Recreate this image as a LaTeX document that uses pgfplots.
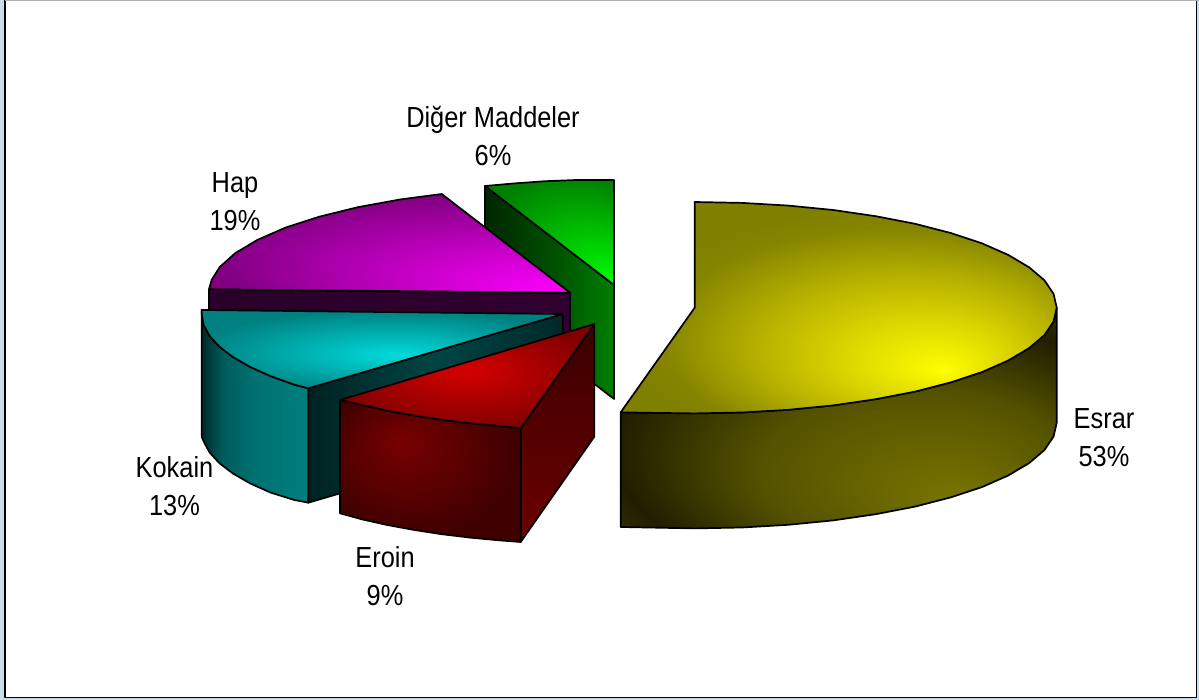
\documentclass[border=0pt]{standalone}
\usepackage{fontspec}
\setmainfont[FakeStretch=0.875]{Liberation Sans}
\usepackage{pgfplots}
\pgfplotsset{compat=1.18}

\definecolor{frame}{HTML}{C9DDE9}
% top faces: focal point of each shading sits on the highlight
\pgfdeclareradialshading{esrartop}{\pgfpoint{12.2bp}{-14.9bp}}{rgb(0bp)=(1,1,0);rgb(8bp)=(.88,.86,0);rgb(17bp)=(.72,.7,0);rgb(26bp)=(.52,.52,0);rgb(30bp)=(.5,.5,0);rgb(50bp)=(.5,.5,0)}
\pgfdeclareradialshading{haptop}{\pgfpoint{25bp}{-25bp}}{rgb(0bp)=(1,0,1);rgb(33bp)=(.5,0,.5);rgb(50bp)=(.5,0,.5)}
\pgfdeclareradialshading{kokaintop}{\pgfpoint{2bp}{-3.8bp}}{rgb(0bp)=(0,.86,.86);rgb(27bp)=(0,.5,.5);rgb(50bp)=(0,.5,.5)}
\pgfdeclareradialshading{eroitop}{\pgfpoint{0bp}{2.9bp}}{rgb(0bp)=(.84,0,0);rgb(27bp)=(.5,0,0);rgb(50bp)=(.5,0,0)}
\pgfdeclareradialshading{digertop}{\pgfpoint{25bp}{-25bp}}{rgb(0bp)=(0,1,0);rgb(35bp)=(0,.5,0);rgb(50bp)=(0,.5,0)}
% side faces
\pgfdeclareradialshading{esrarside}{\pgfpoint{13.9bp}{-18.7bp}}{rgb(0bp)=(.47,.46,0);rgb(18bp)=(.33,.32,0);rgb(31bp)=(.125,.118,0);rgb(37bp)=(.22,.21,0);rgb(50bp)=(.22,.21,0)}
\pgfdeclareradialshading{eroinfront}{\pgfpoint{-8.3bp}{10.9bp}}{rgb(0bp)=(.47,0,0);rgb(28bp)=(.25,0,0);rgb(50bp)=(.25,0,0)}
\pgfdeclareverticalshading{eroinside}{100bp}{rgb(0bp)=(.42,0,0);rgb(25bp)=(.42,0,0);rgb(75bp)=(.235,0,0);rgb(100bp)=(.235,0,0)}
\pgfdeclarehorizontalshading{kokainside}{100bp}{rgb(0bp)=(0,.16,.16);rgb(25bp)=(0,.16,.16);rgb(35bp)=(0,.36,.36);rgb(50bp)=(0,.44,.44);rgb(75bp)=(0,.5,.5);rgb(100bp)=(0,.5,.5)}
\pgfdeclarehorizontalshading{kokaininner}{100bp}{rgb(0bp)=(0,.13,.13);rgb(25bp)=(0,.13,.13);rgb(50bp)=(0,.27,.27);rgb(75bp)=(0,.16,.16);rgb(100bp)=(0,.16,.16)}
\pgfdeclarehorizontalshading{hapside}{100bp}{rgb(0bp)=(.16,0,.16);rgb(25bp)=(.16,0,.16);rgb(75bp)=(.19,0,.19);rgb(100bp)=(.19,0,.19)}
\pgfdeclarehorizontalshading{digerside}{100bp}{rgb(0bp)=(0,.15,0);rgb(25bp)=(0,.15,0);rgb(50bp)=(0,.3,0);rgb(75bp)=(0,.5,0);rgb(100bp)=(0,.5,0)}

\begin{document}
\begin{tikzpicture}
\begin{axis}[
    scale only axis,
    width=1199pt, height=700pt,
    xmin=0, xmax=1199, ymin=0, ymax=700,
    y dir=reverse,
    hide axis,
    every axis plot/.append style={black, line width=1.7pt, line join=round, no markers},
]
% page frame
\addplot[draw=none, fill=frame] coordinates {(0,0) (1199,0) (1199,700) (0,700)} --cycle;
\addplot[fill=white, draw=black, line width=1.8pt] coordinates {(5,0.5) (1196.5,0.5) (1196.5,697.5) (5,697.5)} --cycle;
\addplot[draw=gray!60, line width=1.2pt] coordinates {(5,0.5) (1199,0.5)};

% Diger Maddeler
\addplot[shade, shading=digerside, draw=black] coordinates {(485,186) (614,285) (614,399) (485,300)} --cycle;
\addplot[shade, shading=digertop, draw=black] coordinates {(485,186) (514.5,183.4) (545.1,181.2) (576.3,180) (614,180) (614,285)} --cycle;

% Hap
\addplot[shade, shading=hapside, draw=black] coordinates {(209,289.3) (570,292.7) (570,405) (209,403)} --cycle;
\addplot[shade, shading=haptop, draw=black] coordinates {(441.7,194) (400.5,199.4) (357.8,207.2) (319.2,216.7) (285.5,227.6) (257.4,239.9) (235.3,253.1) (219.7,267.1) (211.7,279.8) (209,289.3) (570,292.7)} --cycle;

% Kokain
\addplot[shade, shading=kokaininner, draw=black] coordinates {(308.3,388.3) (562.7,314) (562.7,428) (308.3,502.7)} --cycle;
\addplot[shade, shading=kokainside, draw=black] coordinates {(201.7,310) (201.7,314) (203.7,325) (209.6,336) (219.4,346.7) (232.9,357) (250.1,366.9) (270.6,376.1) (294.4,384.7) (308.3,388.3) (308.3,502.7) (294.4,500) (270.6,492.6) (250.1,483.4) (232.9,473.5) (219.4,463.2) (209.6,452.5) (203.7,441.5) (201.7,436.7)} --cycle;
\addplot[shade, shading=kokaintop, draw=black] coordinates {(201.7,310) (562.7,314) (308.3,388.3) (294.4,384.7) (270.6,376.1) (250.1,366.9) (232.9,357) (219.4,346.7) (209.6,336) (203.7,325) (201.7,314)} --cycle;

% Eroin
\addplot[shade, shading=eroinside, draw=black] coordinates {(520.7,428.3) (594.3,324) (594.3,436.7) (520.7,542)} --cycle;
\addplot[shade, shading=eroinfront, draw=black] coordinates {(340,400) (362.2,405) (387.2,410.6) (413.8,415.5) (441.7,419.8) (470.8,423.3) (500.9,426.1) (520.7,428.3) (520.7,542) (500.9,540.5) (470.8,537.7) (441.7,534.2) (413.8,529.9) (387.2,525) (362.2,519.4) (340,513.3)} --cycle;
\addplot[shade, shading=eroitop, draw=black] coordinates {(340,400) (362.2,405) (387.2,410.6) (413.8,415.5) (441.7,419.8) (470.8,423.3) (500.9,426.1) (520.7,428.3) (594.3,324)} --cycle;

% Esrar
\addplot[shade, shading=esrarside, draw=black] coordinates {(620.7,412.3) (647.5,412.8) (694.7,413.4) (741.9,412.5) (788.4,409.8) (833.2,405.4) (875.7,399.2) (915.1,391.6) (950.7,382.4) (981.9,372.1) (1008.2,360.5) (1029.1,348.1) (1044.4,335.1) (1053.6,321.5) (1056.7,307.7) (1056.7,422.7) (1053.6,436.5) (1044.4,450.1) (1029.1,463.1) (1008.2,475.5) (981.9,487.1) (950.7,497.4) (915.1,506.6) (875.7,514.2) (833.2,520.4) (788.4,524.8) (741.9,527.5) (694.7,528.4) (647.5,527.5) (620.7,527)} --cycle;
\addplot[shade, shading=esrartop, draw=black] coordinates {(694.7,202) (741.9,202.9) (788.4,205.6) (833.2,210) (875.7,216.2) (915.1,223.8) (950.7,233) (981.9,243.3) (1008.2,254.9) (1029.1,267.3) (1044.4,280.3) (1053.6,293.9) (1056.7,307.7) (1053.6,321.5) (1044.4,335.1) (1029.1,348.1) (1008.2,360.5) (981.9,372.1) (950.7,382.4) (915.1,391.6) (875.7,399.2) (833.2,405.4) (788.4,409.8) (741.9,412.5) (694.7,413.4) (647.5,412.8) (620.7,412.3) (694.7,307.7)} --cycle;

% labels
\begin{scope}[every node/.style={align=center, inner sep=0pt, font=\fontsize{29}{38}\selectfont}]
\node at (axis cs:1104,438) {Esrar\\53\%};
\node at (axis cs:174.5,486) {Kokain\\13\%};
\node at (axis cs:385,576) {Eroin\\9\%};
\node at (axis cs:235,202) {Hap\\19\%};
\node at (axis cs:493,136) {Diğer Maddeler\\6\%};
\end{scope}
\end{axis}
\end{tikzpicture}
\end{document}
